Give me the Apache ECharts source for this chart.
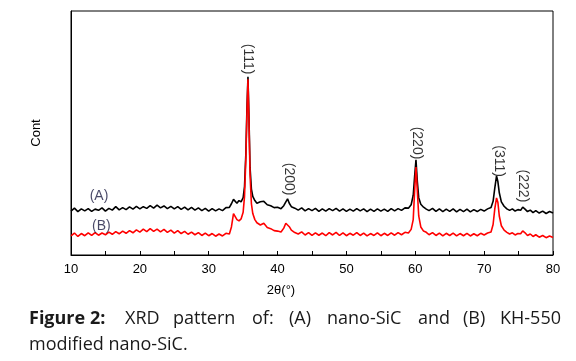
<!DOCTYPE html>
<html>
<head>
<meta charset="utf-8">
<script src="https://cdn.jsdelivr.net/npm/echarts@6.0.0/dist/echarts.min.js"></script>
<style>
html,body{margin:0;padding:0;background:#fff;}
#chart{width:576px;height:361px;}
</style>
</head>
<body>
<div id="chart"></div>
<script>
// 2θ positions (degrees)
var twoTheta = [
  10,10.5,11,11.5,12,12.5,13,13.5,14,14.5,15,15.5,16,16.5,17,17.5,18,18.5,19,19.5,
  20,20.5,21,21.5,22,22.5,23,23.5,24,24.5,25,25.5,26,26.5,27,27.5,28,28.5,29,29.5,
  30,30.5,31,31.5,32,32.5,
  33.0,33.3,33.6,33.8,34.1,34.4,34.7,35.0,35.2,35.4,35.55,35.7,35.85,36.0,36.2,36.4,36.7,37.0,
  37.5,38.0,38.5,39.0,39.5,40.0,40.5,40.9,41.2,41.45,41.7,42.0,42.5,
  43,43.5,44,44.5,45,45.5,46,46.5,47,47.5,48,48.5,49,49.5,50,50.5,51,51.5,52,52.5,
  53,53.5,54,54.5,55,55.5,56,56.5,57,57.5,58,58.5,
  59.0,59.4,59.7,59.9,60.1,60.3,60.5,60.8,61.2,61.6,
  62,62.5,63,63.5,64,64.5,65,65.5,66,66.5,67,67.5,68,68.5,69,69.5,70,70.5,
  71.0,71.3,71.55,71.8,72.0,72.2,72.5,72.9,73.3,73.7,74.1,74.5,74.9,75.3,75.6,75.9,
  76.3,76.7,77.1,77.5,78,78.5,79,79.5,80
];
// (A) nano-SiC counts (arbitrary units)
var countA = [
  18.0,19.2,17.8,18.9,18.1,19.0,17.9,18.8,18.3,19.3,18.0,19.1,18.4,19.8,18.5,19.4,18.6,19.7,18.8,19.9,
  18.9,19.8,19.1,20.2,19.2,20.4,19.3,20.1,19.0,19.9,18.9,19.8,18.7,19.6,18.5,19.5,18.4,19.3,18.2,19.1,
  18.0,19.0,18.1,18.9,18.2,19.4,
  19.5,21.0,22.8,22.0,21.2,22.3,21.8,23.5,28.0,42.0,60.0,73.0,56.0,36.0,27.0,24.0,22.3,21.2,
  21.8,22.0,20.6,20.2,19.4,19.6,19.0,20.2,21.8,23.0,21.2,19.8,19.2,
  18.4,19.3,18.1,19.0,18.2,19.1,17.9,18.9,18.0,19.0,18.2,19.1,18.0,18.9,17.9,18.8,18.0,19.0,18.1,18.9,
  17.8,18.8,17.9,18.9,18.0,18.8,17.9,19.0,18.1,19.0,18.3,19.3,
  19.2,20.6,24.5,32.0,39.0,30.0,23.5,20.8,19.6,18.8,
  18.2,19.1,17.9,18.9,17.8,18.8,17.9,18.9,17.7,18.7,17.8,18.8,17.7,18.6,17.8,18.7,18.0,18.9,
  19.5,22.0,27.5,32.4,30.0,25.5,21.8,20.0,18.9,18.3,18.9,18.0,18.6,18.3,19.6,18.9,
  17.8,18.4,17.4,18.2,17.2,18.0,17.0,17.8,17.2
];
// (B) KH-550 modified nano-SiC counts
var countB = [
  7.8,9.0,7.6,8.8,7.9,9.1,8.0,9.2,8.1,9.0,8.3,9.4,8.5,9.6,8.7,9.8,8.9,10.0,9.1,10.3,
  9.4,10.6,9.6,10.8,9.7,10.6,9.5,10.5,9.3,10.2,9.0,10.0,8.8,9.7,8.5,9.4,8.3,9.2,8.0,9.0,
  7.9,8.8,7.7,8.6,7.8,8.9,
  8.6,11.5,17.0,16.2,14.5,14.0,14.8,17.5,24.0,40.0,58.0,72.0,54.0,33.0,21.0,17.0,14.5,13.2,
  12.3,13.0,11.3,10.8,10.0,9.8,9.4,11.0,13.0,13.6,11.6,10.2,9.2,
  8.6,9.5,8.2,9.2,8.0,9.1,8.1,9.0,7.9,9.2,8.2,9.3,8.0,9.1,7.9,8.9,8.1,9.2,8.0,9.0,
  7.8,8.8,8.0,9.1,7.9,8.9,8.0,9.1,8.1,9.2,8.3,9.3,
  9.0,10.5,14.5,26.0,36.0,26.0,16.0,11.5,9.8,9.3,
  8.3,9.2,8.0,9.0,7.8,8.9,8.0,9.0,7.8,8.8,7.9,8.9,7.8,8.7,7.9,8.9,8.2,9.0,
  9.4,12.5,19.0,23.4,21.5,16.0,12.0,10.2,9.3,8.6,9.1,8.2,8.8,8.7,9.9,9.2,
  8.0,8.6,7.6,8.3,7.3,8.0,7.1,7.8,7.2
];
// Peak (hkl) labels and their anchor positions
var peakLabels = ['(111)','(200)','(220)','(311)','(222)'];
var peakX = [35.7, 41.66, 60.25, 72.15, 75.6];
var peakY = [80.3, 31.1, 45.9, 38.5, 28.3];
// Curve labels
var curveLabels = ['(A)','(B)'];
var curveX = [14.07, 14.4];
var curveY = [24.3, 12.0];
// Axis tick labels / names
var xTicks = [10,20,30,40,50,60,70,80];
var xName = '2θ(°)';
var yName = 'Cont';

var chart = echarts.init(document.getElementById('chart'), null, {renderer:'canvas'});

var dataA = twoTheta.map(function(x,i){return [x,countA[i]];});
var dataB = twoTheta.map(function(x,i){return [x,countB[i]];});
var peakData = peakLabels.map(function(t,i){return {name:t,value:[peakX[i],peakY[i]]};});
var curveData = curveLabels.map(function(t,i){return {name:t,value:[curveX[i],curveY[i]]};});

var axisFont = '"Liberation Sans", Arial, sans-serif';
var capFont = '"Open Sans", sans-serif';
var capWords = [
  {t:'Figure', x:29, b:true},
  {t:'2:', x:90, b:true},
  {t:'XRD', x:125},
  {t:'pattern', x:173},
  {t:'of:', x:252},
  {t:'(A)', x:289},
  {t:'nano-SiC', x:327},
  {t:'and', x:418},
  {t:'(B)', x:463},
  {t:'KH-550', x:500}
];
var graphics = capWords.map(function(w){
  return {type:'text', left:w.x, top:310, style:{text:w.t, fill:'#1a1a1a',
    font:(w.b?'bold ':'')+'18px '+capFont}};
});
graphics.push({type:'text', left:29, top:336, style:{text:'modified nano-SiC.', fill:'#1a1a1a', font:'18px '+capFont}});

chart.setOption({
  backgroundColor:'#fff',
  animation:false,
  grid:{left:71,right:23,top:11,bottom:106,show:true,borderColor:'#000',borderWidth:1,backgroundColor:'transparent'},
  xAxis:{
    type:'value', min:10, max:80, interval:10,
    name:xName, nameLocation:'middle', nameGap:29,
    nameTextStyle:{fontFamily:axisFont,fontSize:13,color:'#000',padding:[0,62,0,0]},
    axisLine:{show:true,lineStyle:{color:'#000',width:1}},
    axisTick:{show:true,inside:true,length:4,lineStyle:{color:'#000'}},
    minorTick:{show:true,splitNumber:2,length:4,lineStyle:{color:'#000'}},
    splitLine:{show:false},
    axisLabel:{fontFamily:axisFont,fontSize:13,color:'#000',margin:8,
      formatter:function(v){return xTicks.indexOf(v)>=0?String(v):'';}}
  },
  yAxis:{
    type:'value', min:0, max:100,
    name:yName, nameLocation:'middle', nameGap:28,
    nameTextStyle:{fontFamily:axisFont,fontSize:13,color:'#000'},
    axisLine:{show:true,lineStyle:{color:'#000',width:1}},
    axisTick:{show:false}, axisLabel:{show:false}, splitLine:{show:false}
  },
  graphic:graphics,
  series:[
    {type:'line', data:dataA, showSymbol:false, symbol:'none', lineStyle:{color:'#000',width:1.6}, z:2},
    {type:'line', data:dataB, showSymbol:false, symbol:'none', lineStyle:{color:'#ff0000',width:1.6}, z:3},
    {type:'scatter', data:peakData, symbolSize:0, z:5,
      label:{show:true, position:'inside', rotate:-90, formatter:'{b}',
        fontFamily:axisFont, fontSize:14, color:'#000'}},
    {type:'scatter', data:curveData, symbolSize:0, z:5,
      label:{show:true, position:'inside', formatter:'{b}',
        fontFamily:axisFont, fontSize:14, color:'#1a1a40'}}
  ]
});
</script>
</body>
</html>
